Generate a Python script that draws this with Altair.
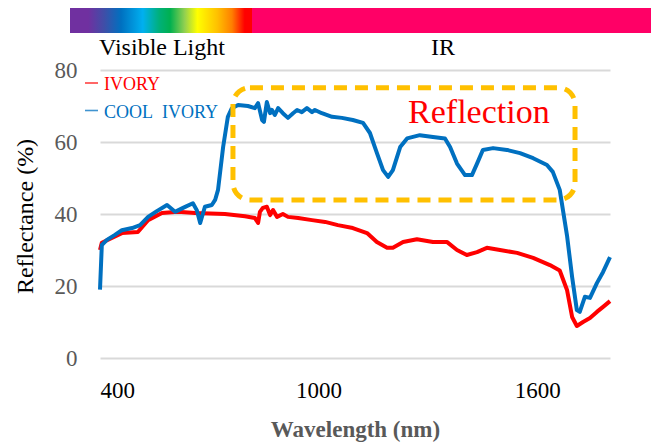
import altair as alt
import pandas as pd

FONT = "serif"

# ---- data ----
series_names = ["IVORY", "COOL IVORY"]
series_colors = ["#FF0000", "#0070C0"]

wl_red = [400, 405, 460, 504, 532, 570, 614, 661, 743, 798, 825, 834, 839, 847, 858, 867,
          875, 886, 902, 916, 944, 982, 1018, 1053, 1094, 1133, 1160, 1188, 1204, 1232,
          1270, 1314, 1353, 1380, 1407, 1435, 1462, 1498, 1545, 1589, 1635, 1662, 1682,
          1696, 1709, 1726, 1745, 1764, 1781, 1800]
val_red = [30.0, 32.0, 34.7, 35.0, 38.3, 40.3, 40.6, 40.3, 40.0, 39.4, 38.9, 37.5, 40.6, 41.7, 42.0, 39.7,
           41.1, 39.2, 40.0, 39.2, 38.9, 38.3, 37.8, 36.9, 36.1, 34.7, 32.2, 30.6, 30.6, 32.2,
           33.0, 32.2, 32.2, 30.0, 28.6, 29.4, 30.6, 30.0, 29.2, 27.8, 25.8, 24.3, 18.9,
           11.4, 8.9, 10.0, 11.1, 12.8, 14.2, 15.8]

wl_blue = [400, 405, 419, 441, 460, 488, 510, 532, 556, 584, 606, 628, 655, 666, 675, 688,
           707, 716, 724, 738, 751, 762, 779, 806, 825, 834, 845, 850, 858, 867, 872, 880,
           889, 902, 916, 930, 941, 954, 968, 982, 990, 1009, 1037, 1064, 1094, 1122, 1141,
           1160, 1177, 1191, 1204, 1224, 1243, 1278, 1314, 1347, 1361, 1380, 1402, 1421,
           1435, 1451, 1479, 1517, 1553, 1589, 1627, 1643, 1662, 1682, 1696, 1709, 1717,
           1731, 1745, 1764, 1781, 1800]
val_blue = [19.0, 31.4, 32.8, 34.2, 35.5, 36.1, 36.9, 39.2, 40.8, 42.5, 40.6, 41.7, 43.0, 41.0, 37.5, 42.0,
            42.5, 43.9, 46.7, 58.6, 67.0, 69.4, 70.3, 70.0, 69.4, 70.8, 66.1, 65.6, 71.1, 68.0, 68.9, 67.5,
            69.4, 68.0, 66.7, 68.0, 68.9, 68.3, 69.4, 68.3, 68.9, 68.0, 67.0, 66.7, 66.1, 65.3, 62.5,
            57.0, 52.2, 50.3, 52.2, 58.6, 61.0, 61.9, 61.4, 61.0, 58.6, 54.0, 50.8, 50.8,
            54.0, 57.8, 58.3, 57.8, 56.9, 55.5, 53.6, 51.7, 46.7, 34.0, 22.5, 13.3, 12.8,
            17.0, 16.7, 20.8, 23.9, 28.0]

x_ticks = [400, 1000, 1600]
y_ticks = [0, 20, 40, 60, 80]

header_labels = ["Visible Light", "IR"]
annotation_text = ["Reflection"]
box_wl = [765, 1704]
box_val = [43.9, 75.1]
annot_wl = [1440]
annot_val = [65.3]

df_red = pd.DataFrame({"wl": wl_red, "val": val_red})
df_blue = pd.DataFrame({"wl": wl_blue, "val": val_blue})
df_box = pd.DataFrame({"wl": [box_wl[0]], "wl2": [box_wl[1]], "val": [box_val[0]], "val2": [box_val[1]]})
df_annot = pd.DataFrame({"wl": annot_wl, "val": annot_val, "label": annotation_text})
one = pd.DataFrame({"a": [0]})

x_enc = alt.X(
    "wl:Q",
    scale=alt.Scale(domain=[400, 1800], nice=False, zero=False),
    axis=alt.Axis(
        values=x_ticks, format="d", grid=False, domain=False, ticks=False, tickSize=0,
        labelFont=FONT, labelFontSize=23, labelColor="#000000", labelPadding=21,
        title="Wavelength (nm)", titleFont=FONT, titleFontSize=23, titleFontWeight="bold",
        titleColor="#595959", titleX=255, titleY=78, titleAlign="center",
        titleBaseline="alphabetic",
    ),
)
y_enc = alt.Y(
    "val:Q",
    scale=alt.Scale(domain=[0, 80], nice=False, zero=True),
    axis=alt.Axis(
        values=y_ticks, grid=True, gridColor="#D9D9D9", gridWidth=2, domain=False,
        ticks=False, tickSize=0, labelFont=FONT, labelFontSize=23, labelColor="#595959",
        labelPadding=23, title="Reflectance (%)", titleFont=FONT, titleFontSize=24,
        titleFontWeight="normal", titleColor="#000000", titleX=-68, titleY=146,
        titleAngle=270, titleAlign="center", titleBaseline="alphabetic",
    ),
)

red_line = alt.Chart(df_red).mark_line(color=series_colors[0], strokeWidth=4, strokeJoin="round").encode(
    x=x_enc, y=y_enc)
blue_line = alt.Chart(df_blue).mark_line(color=series_colors[1], strokeWidth=4, strokeJoin="round").encode(
    x=x_enc, y=y_enc)

box = alt.Chart(df_box).mark_rect(
    filled=False, stroke="#FFC000", strokeWidth=5, strokeDash=[13, 8], cornerRadius=17
).encode(x=x_enc, x2="wl2:Q", y=y_enc, y2="val2:Q")

annot = alt.Chart(df_annot).mark_text(
    font=FONT, fontSize=34, color="#FF0000", align="center", baseline="alphabetic"
).encode(x=x_enc, y=y_enc, text="label:N")

rainbow = alt.Gradient(
    gradient="linear", x1=0, x2=1, y1=0, y2=0,
    stops=[
        alt.GradientStop(color="#7030A0", offset=0.0),
        alt.GradientStop(color="#7030A0", offset=0.1),
        alt.GradientStop(color="#3E4FA8", offset=0.19),
        alt.GradientStop(color="#0070C0", offset=0.28),
        alt.GradientStop(color="#00B0F0", offset=0.40),
        alt.GradientStop(color="#00B07A", offset=0.49),
        alt.GradientStop(color="#00B050", offset=0.55),
        alt.GradientStop(color="#92D050", offset=0.63),
        alt.GradientStop(color="#FFFF00", offset=0.70),
        alt.GradientStop(color="#FFC000", offset=0.81),
        alt.GradientStop(color="#FF7F00", offset=0.89),
        alt.GradientStop(color="#FF0000", offset=0.96),
        alt.GradientStop(color="#FF0000", offset=1.0),
    ],
)
band_vis = alt.Chart(one).mark_rect(fill=rainbow).encode(
    x=alt.value(-30), x2=alt.value(152), y=alt.value(-62), y2=alt.value(-37))
band_ir = alt.Chart(one).mark_rect(fill="#FF0066").encode(
    x=alt.value(152), x2=alt.value(555), y=alt.value(-62), y2=alt.value(-37))
hdr_vis = alt.Chart(one).mark_text(font=FONT, fontSize=24, color="#000000", align="center",
                                   baseline="alphabetic").encode(
    x=alt.value(62), y=alt.value(-15), text=alt.value(header_labels[0]))
hdr_ir = alt.Chart(one).mark_text(font=FONT, fontSize=24, color="#000000", align="center",
                                  baseline="alphabetic").encode(
    x=alt.value(343), y=alt.value(-15), text=alt.value(header_labels[1]))

leg_layers = []
for i, (name, col) in enumerate(zip(series_names, series_colors)):
    ly = 15 + i * 27.5
    label = name.replace(" ", "\u00a0\u00a0")
    leg_layers.append(alt.Chart(one).mark_rule(color=col, strokeWidth=1.6, opacity=0.75).encode(
        x=alt.value(-15), x2=alt.value(-2), y=alt.value(ly - 2)))
    leg_layers.append(alt.Chart(one).mark_text(font=FONT, fontSize=18, color=col, align="left",
                                               baseline="middle").encode(
        x=alt.value(4), y=alt.value(ly), text=alt.value(label)))

chart = alt.layer(
    red_line, blue_line, box, annot, band_vis, band_ir, hdr_vis, hdr_ir, *leg_layers
).properties(
    width=510, height=288,
    autosize=alt.AutoSizeParams(type="none"),
    padding={"left": 92, "top": 62, "right": 41, "bottom": 85},
).configure_view(stroke=None)

chart.save("out.html", embed_options={"renderer": "svg", "actions": False})
